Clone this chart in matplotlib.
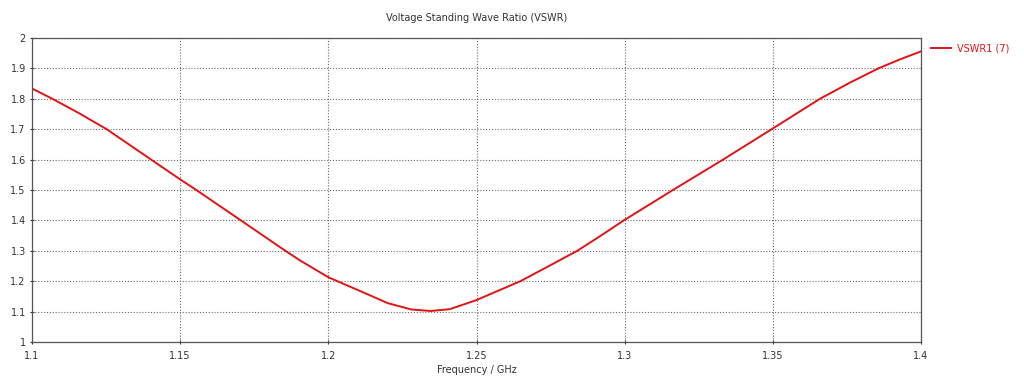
import numpy as np
import matplotlib
matplotlib.use('Agg')
import matplotlib.pyplot as plt

freq = [1.1000, 1.1067, 1.1160, 1.1252, 1.1399, 1.1500, 1.1556, 1.1705, 1.1855,
        1.1905, 1.2000, 1.2130, 1.2200, 1.2280, 1.2345, 1.2410, 1.2500, 1.2648,
        1.2735, 1.2840, 1.2920, 1.2997, 1.3085, 1.3163, 1.3332, 1.3496, 1.3659,
        1.3760, 1.3856, 1.3930, 1.4000]
vswr = [1.834, 1.801, 1.752, 1.700, 1.602, 1.535, 1.499, 1.400, 1.300,
        1.268, 1.213, 1.158, 1.128, 1.107, 1.102, 1.108, 1.138, 1.200,
        1.245, 1.300, 1.350, 1.400, 1.453, 1.500, 1.600, 1.700, 1.800,
        1.853, 1.900, 1.930, 1.956]
series_label = 'VSWR1 (7)'

line_color = '#e01414'
text_color = '#333333'

fig = plt.figure(figsize=(10.24, 3.81), dpi=100)
ax = fig.add_axes([32 / 1024, 1 - 342 / 381, (921 - 32) / 1024, (342 - 38) / 381])

ax.plot(freq, vswr, color=line_color, lw=1.4, label=series_label)

ax.set_xlim(1.1, 1.4)
ax.set_ylim(1, 2)
ax.set_xticks(np.arange(1.1, 1.4001, 0.05))
ax.set_xticklabels(['1.1', '1.15', '1.2', '1.25', '1.3', '1.35', '1.4'])
ax.set_yticks(np.arange(1.0, 2.0001, 0.1))
ax.set_yticklabels(['1', '1.1', '1.2', '1.3', '1.4', '1.5', '1.6', '1.7', '1.8', '1.9', '2'])
ax.tick_params(axis='both', labelsize=7, colors=text_color, length=3,
               direction='inout', width=0.8)
ax.tick_params(axis='x', pad=5)
ax.tick_params(axis='y', pad=3)
ax.grid(True, linestyle=(0, (1.0, 1.6)), color='#6a6a6a', lw=0.8)
for s in ax.spines.values():
    s.set_color('#555555')
    s.set_linewidth(0.9)

ax.set_xlabel('Frequency / GHz', fontsize=7, color=text_color, labelpad=3)
ax.set_title('Voltage Standing Wave Ratio (VSWR)', fontsize=7, color=text_color, pad=12)

leg = ax.legend(loc='upper left', bbox_to_anchor=(1.005, 1.0), frameon=False,
                fontsize=7, handlelength=2.0, handletextpad=0.6, borderaxespad=0.2)
for t in leg.get_texts():
    t.set_color(line_color)

fig.savefig('out.png', dpi=100)
